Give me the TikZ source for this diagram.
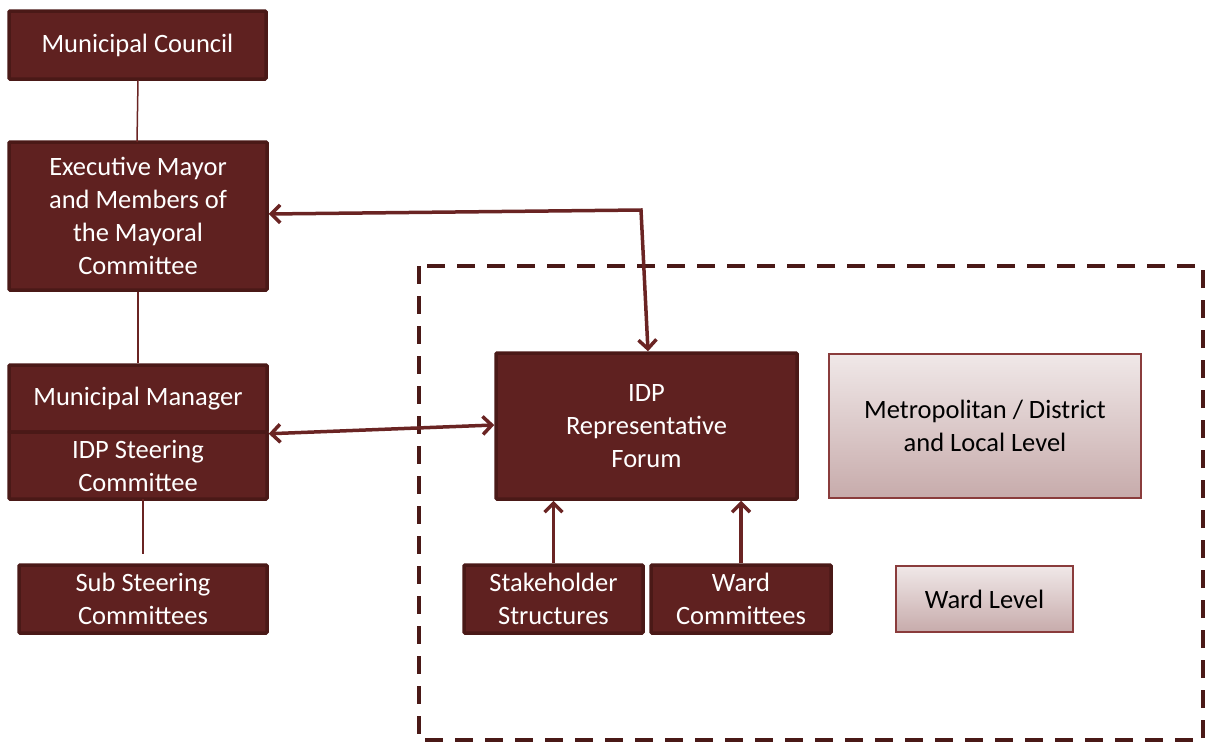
\documentclass[tikz,border=0pt]{standalone}
\usepackage{fontspec}
\setmainfont{Carlito}
\usetikzlibrary{arrows.meta}
\definecolor{boxfill}{HTML}{5F2120}
\definecolor{boxdraw}{HTML}{4A1917}
\definecolor{linec}{HTML}{6A2423}
\definecolor{lvtop}{HTML}{F0E8E8}
\definecolor{lvbot}{HTML}{C7ABAB}
\definecolor{lvdraw}{HTML}{8A3C3C}
\begin{document}
\begin{tikzpicture}[x=1pt,y=-1pt,
  dbox/.style={rectangle, fill=boxfill, draw=boxdraw, line width=3.5pt, text=white,
    font=\fontsize{26.5}{33}\selectfont, align=center, inner sep=0pt, rounded corners=1pt},
  lvbox/.style={rectangle, top color=lvtop, bottom color=lvbot, draw=lvdraw, line width=1.5pt,
    text=black, font=\fontsize{26.5}{33}\selectfont, align=center, inner sep=0pt},
  conn/.style={draw=linec, line width=1.5pt},
  arr/.style={draw=linec, line width=3.5pt, arrows={Straight Barb[length=9pt,width=18pt,line width=3.5pt]-Straight Barb[length=9pt,width=18pt,line width=3.5pt]}},
  uparr/.style={draw=linec, line width=3.5pt, -{Straight Barb[length=9pt,width=18pt,line width=3.5pt]}}
]
\useasboundingbox (0,0) rectangle (1207,742);
% dashed frame
\draw[draw=boxdraw, line width=3.5pt, dash pattern=on 18pt off 12pt] (419,266) rectangle (1203,740);

\node[dbox, minimum width=257, minimum height=68] (mc) at (137.5,45) {Municipal Council};
\node[dbox, minimum width=258, minimum height=148] (em) at (138,216) {Executive Mayor\\and Members of\\the Mayoral\\Committee};
\node[dbox, minimum width=258, minimum height=67] (mm) at (138,398.5) {Municipal Manager};
\node[dbox, minimum width=258, minimum height=67] (sc) at (138,465.5) {IDP Steering\\Committee};
\node[dbox, minimum width=248, minimum height=68] (sub) at (143,599) {Sub Steering\\Committees};
\node[dbox, minimum width=301, minimum height=146] (forum) at (646.5,426) {IDP\\Representative\\Forum};
\node[lvbox, minimum width=312, minimum height=144] (metro) at (985,426) {Metropolitan / District\\and Local Level};
\node[lvbox, minimum width=177, minimum height=66] (wl) at (984.5,599) {Ward Level};
\node[dbox, minimum width=179, minimum height=68] (stake) at (553.5,599) {Stakeholder\\Structures};
\node[dbox, minimum width=180, minimum height=68] (wc) at (741,599) {Ward\\Committees};

\coordinate (bend) at (641,210);
\coordinate (subtop) at (143,554);

\draw[conn] (mc.south) -- (em.south |- mc.south) -- (137,142);
\draw[conn] (em.south) -- (mm.north);
\draw[conn] (143,499) -- (subtop);

\draw[arr] ([yshift=2pt]em.east) -- (bend) -- ([xshift=1.5pt]forum.north);
\draw[arr] (mm.south east) -- ([yshift=1pt]forum.west);
\draw[uparr] (stake.north) -- (stake.north |- forum.south);
\draw[uparr] (wc.north) -- (wc.north |- forum.south);
\end{tikzpicture}
\end{document}
